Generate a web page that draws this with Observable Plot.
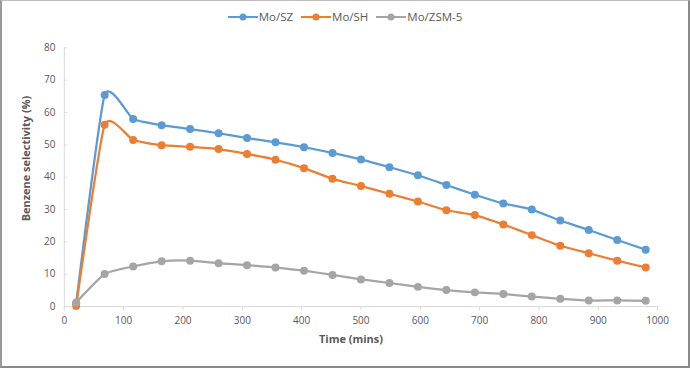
<!DOCTYPE html>
<html>
<head>
<meta charset="utf-8">
<script src="https://cdn.jsdelivr.net/npm/d3@7"></script>
<script src="https://cdn.jsdelivr.net/npm/@observablehq/plot@0.6"></script>
<style>
  html, body { margin: 0; padding: 0; background: #fff; }
  #wrap { position: relative; width: 690px; height: 368px; box-sizing: border-box;
          border-top: 1px solid #bdbdbd; border-left: 2px solid #9a9a9a;
          border-right: 2px solid #8a8a8a; border-bottom: 2px solid #8a8a8a; overflow: hidden;
          font-family: "Open Sans", sans-serif; }
  #legend { position: absolute; top: 8px; left: 0; width: 686px; display: flex; justify-content: center;
            gap: 8px; font-size: 11.5px; color: #595959; }
  #legend .item { display: flex; align-items: center; }
  #legend svg { margin-right: 1px; }
  #chart { position: absolute; top: -1px; left: -2px; }
</style>
</head>
<body>
<div id="wrap">
  <div id="chart"></div>
  <div id="legend"></div>
</div>
<script>
const seriesNames = ["Mo/SZ", "Mo/SH", "Mo/ZSM-5"];
const seriesColors = ["#5B9BD5", "#ED7D31", "#A5A5A5"];
const timeMins = [20, 68, 116, 164, 212, 260, 308, 356, 404, 452, 500, 548, 596, 644, 692, 740, 788, 836, 884, 932, 980];
const moSZ = [1.0, 65.4, 58.0, 56.1, 54.9, 53.6, 52.1, 50.8, 49.3, 47.5, 45.5, 43.1, 40.6, 37.6, 34.6, 31.9, 30.0, 26.6, 23.7, 20.6, 17.6];
const moSH = [0.2, 56.2, 51.5, 49.9, 49.4, 48.7, 47.2, 45.4, 42.8, 39.5, 37.3, 34.9, 32.5, 29.8, 28.3, 25.4, 22.1, 18.8, 16.5, 14.2, 12.1];
const moZSM5 = [1.3, 10.1, 12.4, 14.0, 14.2, 13.4, 12.8, 12.1, 11.1, 9.8, 8.4, 7.3, 6.1, 5.1, 4.4, 3.9, 3.1, 2.4, 1.9, 1.9, 1.8];
const xTicks = [0, 100, 200, 300, 400, 500, 600, 700, 800, 900, 1000];
const yTicks = [0, 10, 20, 30, 40, 50, 60, 70, 80];

const seriesValues = [moSZ, moSH, moZSM5];
const data = [];
seriesNames.forEach((name, s) => {
  timeMins.forEach((t, i) => data.push({series: name, time: t, value: seriesValues[s][i]}));
});

const marks = [];
seriesNames.forEach((name, s) => {
  const d = data.filter(r => r.series === name);
  marks.push(Plot.line(d, {x: "time", y: "value", stroke: seriesColors[s], strokeWidth: 2.25, curve: "cardinal", tension: 0.5}));
  marks.push(Plot.dot(d, {x: "time", y: "value", fill: seriesColors[s], r: 4}));
});

const chart = Plot.plot({
  width: 690,
  height: 368,
  marginLeft: 64,
  marginRight: 31,
  marginTop: 47.5,
  marginBottom: 61,
  style: {fontFamily: "Open Sans, sans-serif", fontSize: "10px", color: "#595959", background: "transparent"},
  x: {domain: [0, 1000], ticks: xTicks, tickFormat: d => String(d)},
  y: {domain: [0, 80], ticks: yTicks},
  marks: [
    Plot.axisY({ticks: yTicks, tickSize: -3, tickPadding: 12, stroke: "#d9d9d9", color: "#595959",
      label: "Benzene selectivity (%)", labelAnchor: "center", labelArrow: "none", labelOffset: 37}),
    Plot.axisX({ticks: xTicks, tickFormat: d => String(d), tickSize: 4, tickPadding: 6, stroke: "#d9d9d9", color: "#595959",
      label: "Time (mins)", labelAnchor: "center", labelArrow: "none", labelOffset: 34}),
    Plot.ruleX([0], {stroke: "#d9d9d9"}),
    Plot.ruleY([0], {stroke: "#d9d9d9"}),
    ...marks
  ]
});
document.getElementById("chart").appendChild(chart);
// Excel-like placement of axis titles
const yLab = d3.select(chart).select("[aria-label='y-axis label']");
const xLab = d3.select(chart).select("[aria-label='x-axis label']");
yLab.attr("transform", null).selectAll("text")
  .attr("transform", "translate(26,159) rotate(-90)").attr("x", null).attr("y", null)
  .attr("text-anchor", "middle").attr("dy", "0.35em")
  .style("font-weight", "bold").style("font-size", "11px");
xLab.attr("transform", null).selectAll("text")
  .attr("transform", "translate(352,340)").attr("x", null).attr("y", null)
  .attr("text-anchor", "middle").attr("dy", "0.35em")
  .style("font-weight", "bold").style("font-size", "11px");

const legend = document.getElementById("legend");
seriesNames.forEach((name, s) => {
  const item = document.createElement("div");
  item.className = "item";
  item.innerHTML = `<svg width="30" height="10"><line x1="0" x2="30" y1="5" y2="5" stroke="${seriesColors[s]}" stroke-width="2"/><circle cx="15" cy="5" r="3.5" fill="${seriesColors[s]}"/></svg><span>${name}</span>`;
  legend.appendChild(item);
});
</script>
</body>
</html>
